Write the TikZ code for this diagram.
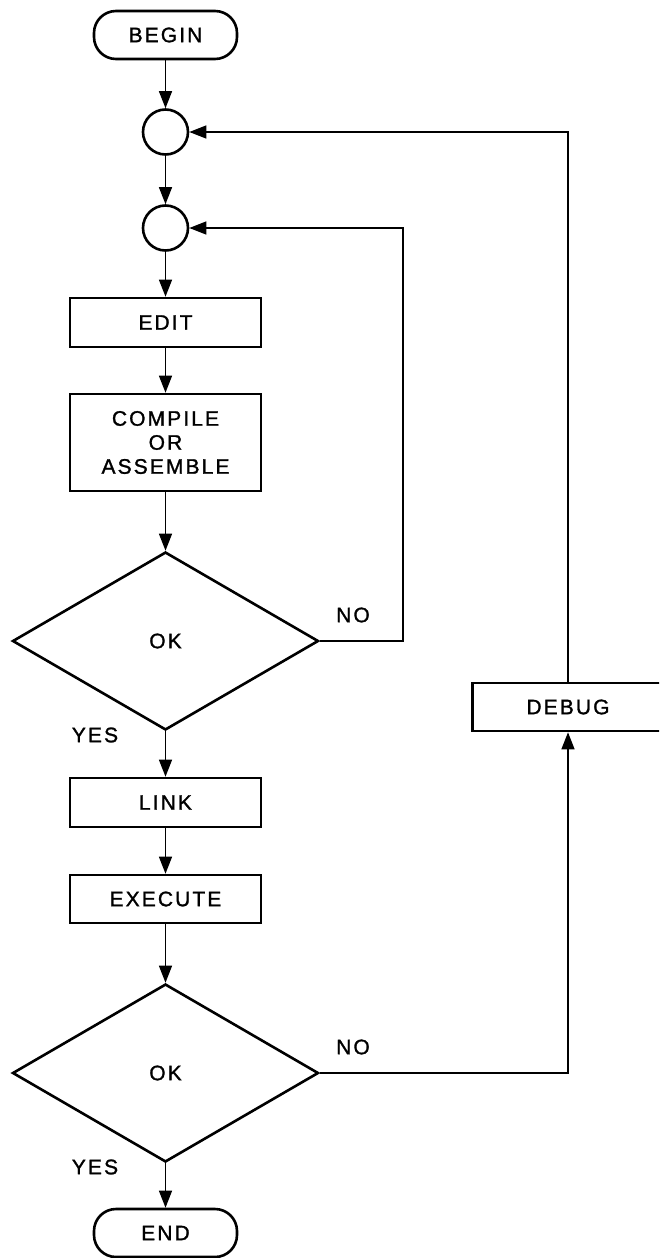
\documentclass[tikz,border=0pt]{standalone}
\usepackage{fontspec}
\setmainfont{Liberation Sans}[LetterSpace=10, FakeBold=1.3]
\usetikzlibrary{shapes.geometric,arrows.meta}

\tikzset{
  box/.style={draw, line width=2.6pt, minimum width=191pt, inner sep=0pt, align=center},
  term/.style={draw, line width=2.6pt, rounded corners=22pt, minimum width=143pt, minimum height=48pt, inner sep=0pt},
  joint/.style={draw, circle, line width=2.6pt, minimum size=45pt, inner sep=0pt},
  decide/.style={draw, diamond, line width=2.6pt, minimum width=306pt, minimum height=178pt, inner sep=0pt},
  flow/.style={line width=1.3pt, -{Triangle[length=17pt,width=13pt]}},
  lbl/.style={inner sep=0pt}
}

\begin{document}
\begin{tikzpicture}[x=1pt, y=-1pt, font=\fontsize{21}{24}\selectfont]
\useasboundingbox (0,0) rectangle (659,1258);
\clip (0,0) rectangle (659,1258);

% main column
\node[term] (begin) at (165.5,35) {BEGIN};
\node[joint] (j1) at (165.5,132) {};
\node[joint] (j2) at (165.5,228) {};
\node[box, minimum height=49pt] (edit) at (165.5,322.5) {EDIT};
\node[box, minimum height=97pt] (compile) at (165.5,442.5) {COMPILE\\OR\\ASSEMBLE};
\node[decide] (ok1) at (165.5,641) {OK};
\node[box, minimum height=49pt] (link) at (165.5,802.5) {LINK};
\node[box, minimum height=48pt] (exec) at (165.5,899) {EXECUTE};
\node[decide] (ok2) at (165.5,1073) {OK};
\node[term] (end) at (165.5,1233) {END};

% side branch
\node[box, minimum height=48pt] (debug) at (568,707) {DEBUG};

% labels
\node[lbl] (no1) at (353,615) {NO};
\node[lbl] (yes1) at (95,735) {YES};
\node[lbl] (no2) at (353,1047) {NO};
\node[lbl] (yes2) at (95,1167) {YES};

% straight flow
\draw[flow] (begin) -- (j1);
\draw[flow] (j1) -- (j2);
\draw[flow] (j2) -- (edit);
\draw[flow] (edit) -- (compile);
\draw[flow] (compile) -- (ok1);
\draw[flow] (ok1.south) -- (link);
\draw[flow] (link) -- (exec);
\draw[flow] (exec) -- (ok2);
\draw[flow] (ok2.south) -- (end);

% loops
\coordinate (r1) at (403,641);
\draw[flow] (ok1.east) -- (r1) |- (j2.east);
\draw[flow] (ok2.east) -| (debug.south);
\draw[flow] (debug.north) |- (j1.east);
\end{tikzpicture}
\end{document}
